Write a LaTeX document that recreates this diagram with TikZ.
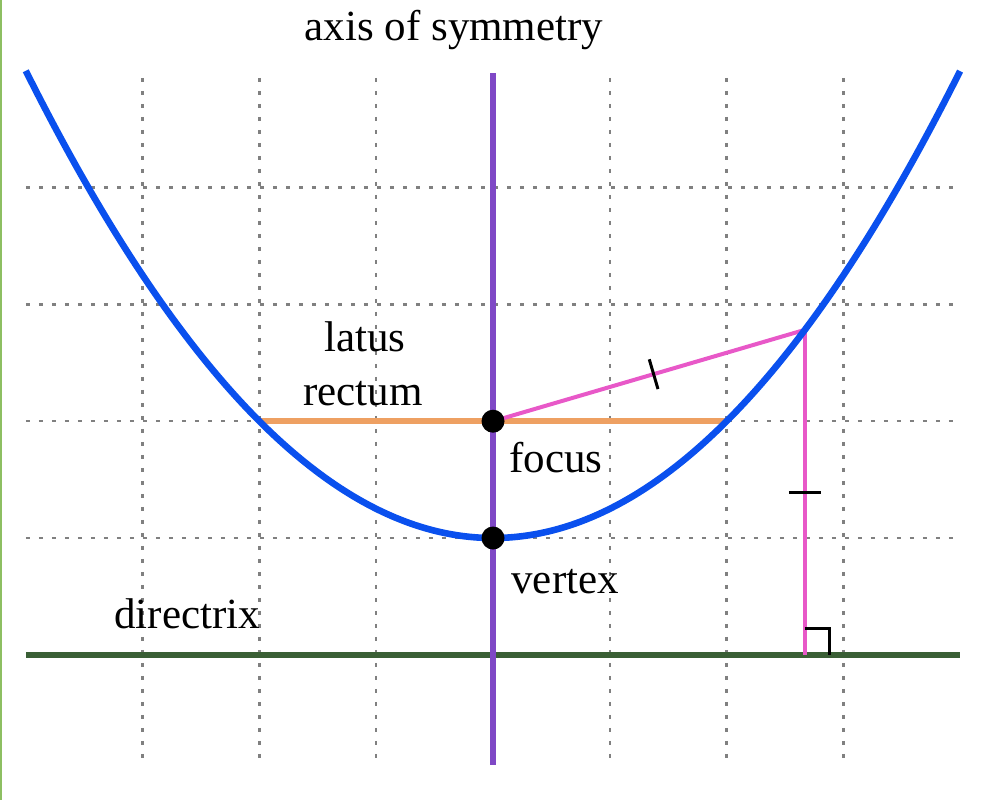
\documentclass[tikz,border=0pt]{standalone}
\usepackage{fontspec}
\setmainfont{Liberation Serif}
\usetikzlibrary{calc}
\definecolor{parblue}{HTML}{0A50EE}
\definecolor{axpurple}{HTML}{7F48C6}
\definecolor{dirgreen}{HTML}{3A5F35}
\definecolor{lrorange}{HTML}{EEA062}
\definecolor{dpink}{HTML}{E858C8}
\definecolor{gridgray}{HTML}{808080}
\definecolor{bordergreen}{HTML}{8DBF62}
\tikzset{
  gridline/.style={gridgray, line width=1.2pt, dash pattern=on 2pt off 4.5pt},
  curve/.style={parblue, line width=3.3pt},
  axisline/.style={axpurple, line width=2.7pt},
  dirline/.style={dirgreen, line width=3.3pt},
  latus/.style={lrorange, line width=2.8pt},
  distline/.style={dpink, line width=2pt},
  tickmark/.style={black, line width=1.5pt},
  ptdot/.style={circle, fill=black, inner sep=0pt, minimum size=11.5pt},
  lbl/.style={inner sep=0pt, font=\fontsize{21.5pt}{27pt}\selectfont}
}
\begin{document}
\begin{tikzpicture}[x=0.5pt,y=-0.5pt]
\useasboundingbox (0,0) rectangle (1000,800);
\fill[bordergreen] (0,0) rectangle (2,800);
\begin{scope}[shift={(493,538)}, x=58.4pt, y=58.4pt]
  % grid
  \foreach \gx in {-3,-2,-1,1,2,3} \draw[gridline] (\gx,3.94) -- (\gx,-1.90);
  \foreach \gy in {0,1,2,3} \draw[gridline] (-4,\gy) -- (4,\gy);
  % key points
  \coordinate (V) at (0,0);
  \coordinate (F) at (0,1);
  \coordinate (LL) at (-2,1);
  \coordinate (LR) at (2,1);
  \coordinate (P) at (2.67,1.7822);
  \coordinate (D) at (2.67,-1);
  \coordinate (DL) at (-4,-1);
  \coordinate (DR) at (4,-1);
  \coordinate (AT) at (0,3.98);
  \coordinate (AB) at (0,-1.94);
  % directrix
  \draw[dirline] (DL) -- (DR);
  % latus rectum
  \draw[latus] (LL) -- (LR);
  % distances
  \draw[distline] (F) -- (P) coordinate[pos=0.515] (M1);
  \draw[distline] (P) -- (D) coordinate[pos=0.5] (M2);
  \draw[tickmark] ($(M1)!15.5pt/2!90:(P)$) -- ($(M1)!15.5pt/2!-90:(P)$);
  \draw[tickmark] ($(M2)+(-16*0.5pt,0)$) -- ($(M2)+(16*0.5pt,0)$);
  % right angle
  \draw[tickmark] ($(D)+(0,13pt)$) -- ($(D)+(12.5pt,13pt)$) -- ($(D)+(12.5pt,0)$);
  % axis
  \draw[axisline] (AT) -- (AB);
  % parabola
  \draw[curve] plot[domain=-4:4, samples=120, smooth] (\x, {\x*\x/4});
  % dots
  \node[ptdot] (focus) at (F) {};
  \node[ptdot] (vertex) at (V) {};
\end{scope}
% labels
\node[lbl, anchor=base] (taxis) at (454,40) {axis of symmetry};
\node[lbl, anchor=base] (tlatus) at (365,351) {latus};
\node[lbl, anchor=base] (trectum) at (363,405) {rectum};
\node[lbl, anchor=base west] (tfocus) at (509,472) {focus};
\node[lbl, anchor=base west] (tvertex) at (511,593) {vertex};
\node[lbl, anchor=base west] (tdir) at (114,628) {directrix};
\end{tikzpicture}
\end{document}
